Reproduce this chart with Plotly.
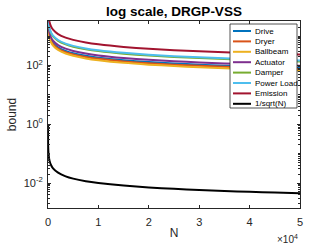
import plotly.graph_objects as go

# ---- data ----
N_col = [10, 30, 100, 300, 600, 1000, 2000, 3500, 5000, 7500, 10000, 15000,
         20000, 25000, 30000, 35000, 40000, 45000, 50000]
drive     = [5800, 3350, 1834, 1059, 749, 580, 410, 310, 259, 212, 183, 150, 130, 116, 106, 98, 92, 86, 82]
dryer     = [5300, 3060, 1677, 968, 685, 530, 375, 283, 237, 194, 168, 137, 119, 106, 97, 90, 84, 79, 75]
ballbeam  = [4740, 2735, 1498, 865, 612, 474, 335, 253, 212, 173, 150, 122, 106, 95, 86, 80, 75, 71, 67]
actuator  = [6925, 4000, 2190, 1264, 894, 693, 490, 370, 310, 253, 219, 179, 155, 139, 126, 117, 110, 103, 98]
damper    = [9690, 5590, 3063, 1768, 1251, 969, 685, 518, 433, 354, 306, 250, 217, 194, 177, 164, 153, 144, 137]
powerload = [10330, 5960, 3265, 1885, 1333, 1033, 730, 552, 462, 377, 327, 267, 231, 206, 188, 175, 163, 154, 146]
emission  = [16480, 9510, 5210, 3010, 2130, 1650, 1165, 880, 737, 602, 521, 425, 368, 330, 301, 278, 260, 246, 233]

N_ref = [1, 3, 10, 30, 100, 300, 600, 1000, 2000, 3500, 5000, 7500, 10000, 15000,
         20000, 25000, 30000, 35000, 40000, 45000, 50000]
inv_sqrt = [1.0, 0.577, 0.316, 0.183, 0.1, 0.0577, 0.0408, 0.0316, 0.0224, 0.0169, 0.0141,
            0.0115, 0.01, 0.00816, 0.00707, 0.00632, 0.00577, 0.00535, 0.005, 0.00471, 0.00447]

names = ["Drive", "Dryer", "Ballbeam", "Actuator", "Damper", "Power Load", "Emission", "1/sqrt(N)"]
colors = ["#0072BD", "#D95319", "#EDB120", "#7E2F8E", "#77AC30", "#4DBEEE", "#A2142F", "#000000"]
series = [drive, dryer, ballbeam, actuator, damper, powerload, emission]

x_tickvals = [0, 10000, 20000, 30000, 40000, 50000]
x_ticktext = ["0", "1", "2", "3", "4", "5"]
y_tickvals = [0.01, 1, 100]
y_ticktext = ["10<sup>-2</sup>", "10<sup>0</sup>", "10<sup>2</sup>"]

fig = go.Figure()
for name, col, ys in zip(names[:-1], colors[:-1], series):
    fig.add_trace(go.Scatter(x=N_col, y=ys, mode="lines", name=name,
                             line=dict(color=col, width=2, shape="spline", smoothing=0.6),
                             showlegend=False))
fig.add_trace(go.Scatter(x=N_ref, y=inv_sqrt, mode="lines", name=names[-1],
                         line=dict(color=colors[-1], width=2, shape="spline", smoothing=0.6),
                         showlegend=False))

# minor ticks for log axis
minor_vals = []
for e in range(-3, 4):
    for k in range(1, 10):
        v = k * 10 ** e
        if v not in y_tickvals:
            minor_vals.append(v)

W, H = 332, 249
L, R, T, B = 48, 300, 21, 208
axcol = "#262626"
font = "Liberation Sans, Arial, sans-serif"

fig.update_layout(
    width=W, height=H,
    margin=dict(l=L, r=W - R, t=T, b=H - B),
    paper_bgcolor="white", plot_bgcolor="white",
    font=dict(family=font, size=11, color=axcol),
    title=dict(text="<b>log scale, DRGP-VSS</b>", x=(L + R) / 2 / W, xanchor="center",
               y=1 - 11 / H, yanchor="middle", font=dict(size=13.5, color="#000000")),
    xaxis=dict(range=[0, 50000], tickvals=x_tickvals, ticktext=x_ticktext,
               ticks="inside", ticklen=3, tickcolor=axcol, showgrid=False, zeroline=False,
               showline=True, linecolor=axcol, linewidth=1, mirror="ticks",
               ticklabelstandoff=4, tickfont=dict(size=11), automargin=False,
               title=dict(text="N", font=dict(size=12), standoff=1)),
    yaxis=dict(type="log", range=[-2.85, 3.51], tickvals=y_tickvals, ticktext=y_ticktext,
               ticks="inside", ticklen=3, tickcolor=axcol, showgrid=False, zeroline=False,
               showline=True, linecolor=axcol, linewidth=1, mirror="ticks",
               ticklabelstandoff=2, tickfont=dict(size=11), automargin=False,
               minor=dict(tickvals=minor_vals, ticks="inside", ticklen=2, tickcolor=axcol),
               title=dict(text="bound", font=dict(size=12), standoff=4)),
)

# x10^4 exponent label
fig.add_annotation(text="×10<sup>4</sup>", xref="paper", yref="paper",
                   x=1.0, y=-(239 - B) / (B - T), xanchor="right", yanchor="middle",
                   showarrow=False, font=dict(size=10, color=axcol))

# custom legend box
def px(xp):
    return (xp - L) / (R - L)

def py(yp):
    return (B - yp) / (B - T)

lx0, lx1, ly0, ly1 = 230, 297, 24, 108
fig.add_shape(type="rect", xref="paper", yref="paper", x0=px(lx0), x1=px(lx1),
              y0=py(ly1), y1=py(ly0), line=dict(color=axcol, width=0.8), fillcolor="white",
              layer="above")
for i, (name, col) in enumerate(zip(names, colors)):
    yy = 31 + 10.4 * i
    fig.add_shape(type="line", xref="paper", yref="paper", x0=px(233), x1=px(251),
                  y0=py(yy), y1=py(yy), line=dict(color=col, width=2), layer="above")
    fig.add_annotation(text=name, xref="paper", yref="paper", x=px(252.5), y=py(yy),
                       xanchor="left", yanchor="middle", showarrow=False,
                       font=dict(size=8, color="#000000"))

fig.write_html("out.html", config={"displayModeBar": False},
               post_script="document.body.style.margin='0';document.body.style.overflow='hidden';")
